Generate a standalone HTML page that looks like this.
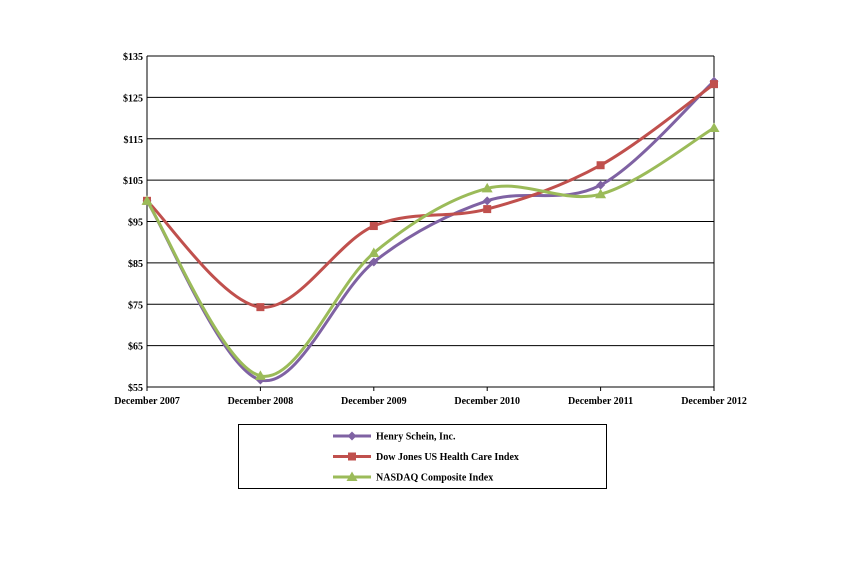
<!DOCTYPE html>
<html><head><meta charset="utf-8"><style>
body{margin:0;background:#fff;}
svg{display:block;font-family:"Liberation Serif",serif;font-weight:bold;font-size:10px;}
</style></head><body>
<svg id="chart" width="851" height="570">
<g id="grid"></g><g id="axes"></g><g id="series"></g><g id="legend"></g>
</svg>
<script>
const categories=["December 2007","December 2008","December 2009","December 2010","December 2011","December 2012"];
const henrySchein=[100,56.7,85.2,100,103.8,128.9];
const dowJones=[100,74.3,93.9,98,108.6,128.2];
const nasdaq=[100,57.7,87.4,103,101.6,117.6];
const yTicks=[55,65,75,85,95,105,115,125,135];
const seriesNames=["Henry Schein, Inc.","Dow Jones US Health Care Index","NASDAQ Composite Index"];
const NS="http://www.w3.org/2000/svg";
const x0=147,x1=714,yTop=56,yBot=387,yMin=55,yMax=135;
const xs=i=>x0+i*(x1-x0)/(categories.length-1);
const ys=v=>yBot-(v-yMin)/(yMax-yMin)*(yBot-yTop);
function mk(t,a,p){const e=document.createElementNS(NS,t);for(const k in a)e.setAttribute(k,a[k]);p.appendChild(e);return e;}
const grid=document.getElementById('grid'),axes=document.getElementById('axes');
yTicks.forEach(v=>{
 const l=mk('line',{x1:x0,x2:x1,y1:ys(v),y2:ys(v),stroke:'#000','stroke-width':1},grid);
 
 
 const t=mk('text',{x:x0-4,y:ys(v)+4,'text-anchor':'end'},axes);t.textContent='$'+v;
 
 
});
let ax=mk('line',{x1:x0,x2:x0,y1:yTop,y2:yBot,stroke:'#000'},axes);


categories.forEach((c,i)=>{
 mk('line',{x1:xs(i),x2:xs(i),y1:yBot,y2:yBot+4,stroke:'#000'},axes);
 const t=mk('text',{x:xs(i),y:yBot+17,'text-anchor':'middle'},axes);t.textContent=c;
 
 
});
mk('line',{x1:x1,x2:x1,y1:yTop,y2:yBot,stroke:'#000'},axes);
const colors=['#7f62a3','#c0504d','#9bbb59'];
const data=[henrySchein,dowJones,nasdaq];
const sg=document.getElementById('series');
function marker(type,cx,cy,col,p){
 if(type===0)return mk('path',{d:`M${cx},${cy-4.5}L${cx+4.5},${cy}L${cx},${cy+4.5}L${cx-4.5},${cy}Z`,fill:col},p);
 if(type===1)return mk('rect',{x:cx-4,y:cy-4,width:8,height:8,fill:col},p);
 return mk('path',{d:`M${cx},${cy-5.5}L${cx+5.5},${cy+4}L${cx-5.5},${cy+4}Z`,fill:col},p);
}
data.forEach((vals,s)=>{
 const g=mk('g',{},sg);
 
 
 const P=vals.map((v,i)=>[xs(i),ys(v)]);
 let d=`M${P[0][0]},${P[0][1]}`;
 for(let i=0;i<P.length-1;i++){
  const p0=P[i-1]||P[i],p1=P[i],p2=P[i+1],p3=P[i+2]||P[i+1];
  const c1=[p1[0]+(p2[0]-p0[0])/6,p1[1]+(p2[1]-p0[1])/6];
  const c2=[p2[0]-(p3[0]-p1[0])/6,p2[1]-(p3[1]-p1[1])/6];
  d+=`C${c1[0]},${c1[1]} ${c2[0]},${c2[1]} ${p2[0]},${p2[1]}`;
 }
 mk('path',{d,fill:'none',stroke:colors[s],'stroke-width':3},g);
 P.forEach(p=>{const m=marker(s,p[0],p[1],colors[s],g);
  
  });
});
const lg=document.getElementById('legend');


mk('rect',{x:238.5,y:424.5,width:368,height:64,fill:'#fff',stroke:'#000'},lg);
seriesNames.forEach((n,s)=>{
 const y=436+s*20.5;
 const e=mk('g',{},lg);
 
 
 mk('line',{x1:333,x2:371,y1:y,y2:y,stroke:colors[s],'stroke-width':3},e);
 marker(s,352,y,colors[s],e);
 const t=mk('text',{x:376,y:y+3.5},e);t.textContent=n;
});
</script>
</body></html>
